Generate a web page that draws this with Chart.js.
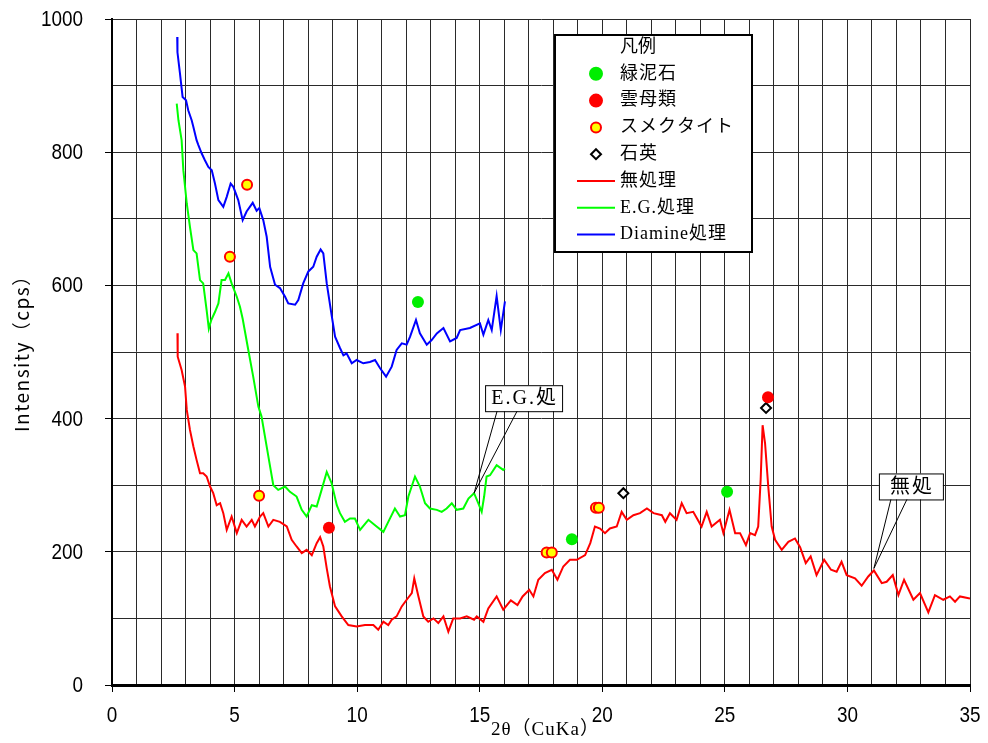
<!DOCTYPE html>
<html lang="ja">
<head>
<meta charset="UTF-8">
<title>XRD</title>
<script src="https://cdn.jsdelivr.net/npm/chart.js@4.4.1/dist/chart.umd.min.js"></script>
<style>
  html, body { margin: 0; padding: 0; background: #fff; }
  canvas { display: block; }
</style>
</head>
<body>
<canvas id="xrd" width="988" height="743"></canvas>
<script>
// 無処理
const redX = [2.67, 2.68, 2.84, 2.98, 3.05, 3.18, 3.32, 3.45, 3.59, 3.72, 3.86, 4.0, 4.13, 4.27, 4.41, 4.54, 4.68, 4.88, 5.09, 5.29,
  5.49, 5.7, 5.83, 6.04, 6.17, 6.38, 6.58, 6.85, 7.13, 7.33, 7.53, 7.74, 7.94, 8.15, 8.35, 8.49, 8.62, 8.76, 8.89, 9.1,
  9.37, 9.64, 9.98, 10.32, 10.66, 10.86, 11.07, 11.27, 11.41, 11.61, 11.82, 12.02, 12.23, 12.33, 12.5, 12.7, 12.9, 13.11, 13.31, 13.52,
  13.72, 13.92, 14.2, 14.47, 14.77, 14.88, 15.15, 15.35, 15.69, 15.96, 16.27, 16.54, 16.75, 17.02, 17.19, 17.39, 17.66, 17.94, 18.17, 18.41,
  18.68, 18.96, 19.3, 19.51, 19.7, 19.91, 20.11, 20.31, 20.59, 20.79, 21.0, 21.27, 21.54, 21.82, 22.09, 22.43, 22.57, 22.76, 23.03, 23.24,
  23.44, 23.71, 24.05, 24.26, 24.46, 24.8, 24.94, 25.19, 25.42, 25.62, 25.86, 26.03, 26.23, 26.36, 26.46, 26.54, 26.64, 26.77, 26.91, 27.05,
  27.32, 27.59, 27.86, 28.07, 28.3, 28.5, 28.74, 29.05, 29.33, 29.56, 29.76, 29.97, 30.31, 30.58, 30.85, 31.08, 31.4, 31.6, 31.85, 32.08,
  32.31, 32.69, 32.96, 33.3, 33.57, 33.91, 34.18, 34.39, 34.59, 35.0];
const redY = [528, 493, 473, 448, 413, 383, 358, 338, 318, 318, 313, 298, 288, 270, 273, 258, 233, 253, 228, 248,
  238, 248, 238, 253, 258, 238, 248, 245, 238, 218, 208, 198, 203, 195, 213, 222, 208, 175, 148, 118,
  103, 90, 88, 90, 90, 83, 95, 90, 98, 103, 118, 128, 138, 160, 133, 103, 95, 100, 93, 103,
  80, 100, 100, 103, 98, 103, 95, 115, 133, 113, 127, 120, 133, 143, 133, 158, 168, 173, 158, 178,
  188, 188, 195, 213, 238, 235, 228, 235, 238, 260, 248, 255, 258, 265, 258, 255, 245, 258, 248, 273,
  258, 260, 238, 260, 238, 248, 228, 263, 228, 228, 210, 228, 225, 238, 308, 390, 363, 298, 238, 218,
  203, 215, 220, 207, 183, 193, 165, 188, 173, 170, 185, 165, 160, 149, 163, 172, 153, 155, 165, 135,
  158, 128, 138, 109, 135, 128, 133, 125, 133, 130];

// E.G.処理
const greenX = [2.64, 2.71, 2.84, 2.91, 3.05, 3.18, 3.32, 3.45, 3.59, 3.72, 3.86, 3.95, 4.05, 4.2, 4.34, 4.47, 4.61, 4.75, 4.88, 5.09,
  5.22, 5.33, 5.56, 5.76, 5.97, 6.1, 6.31, 6.45, 6.58, 6.78, 7.06, 7.26, 7.53, 7.74, 7.94, 8.15, 8.35, 8.55, 8.76, 8.96,
  9.17, 9.3, 9.5, 9.71, 9.91, 10.12, 10.39, 10.46, 10.73, 11.07, 11.27, 11.54, 11.75, 11.95, 12.09, 12.36, 12.56, 12.77, 12.97, 13.25,
  13.45, 13.65, 13.86, 14.06, 14.33, 14.54, 14.77, 14.94, 15.08, 15.18, 15.28, 15.42, 15.69, 15.96, 16.03];
const greenY = [873, 848, 818, 773, 723, 688, 653, 648, 608, 603, 563, 535, 548, 560, 573, 608, 608, 618, 603, 583,
  568, 550, 503, 463, 418, 403, 358, 328, 300, 293, 298, 290, 283, 263, 253, 270, 268, 293, 320, 303,
  270, 258, 245, 250, 250, 233, 245, 248, 240, 230, 245, 265, 253, 255, 283, 313, 298, 273, 265, 263,
  260, 265, 273, 263, 265, 280, 288, 273, 260, 283, 313, 315, 330, 323, 325];

// Diamine処理
const blueX = [2.66, 2.67, 2.77, 2.88, 3.02, 3.11, 3.25, 3.32, 3.45, 3.52, 3.66, 3.79, 3.93, 4.07, 4.2, 4.34, 4.54, 4.68, 4.84, 4.95,
  5.15, 5.33, 5.49, 5.74, 5.9, 6.01, 6.17, 6.31, 6.45, 6.65, 6.85, 7.06, 7.19, 7.47, 7.6, 7.8, 8.01, 8.21, 8.35, 8.51,
  8.62, 8.76, 8.96, 9.1, 9.3, 9.44, 9.57, 9.78, 9.98, 10.25, 10.52, 10.73, 10.93, 11.18, 11.41, 11.61, 11.82, 12.02, 12.16, 12.4,
  12.56, 12.84, 13.04, 13.25, 13.52, 13.79, 14.06, 14.2, 14.6, 15.01, 15.15, 15.35, 15.49, 15.69, 15.86, 16.03];
const blueY = [973, 950, 919, 883, 878, 863, 848, 838, 818, 811, 798, 788, 778, 773, 753, 728, 718, 733, 753, 748,
  728, 698, 711, 724, 712, 716, 698, 673, 628, 601, 596, 583, 573, 571, 578, 603, 621, 628, 643, 654,
  648, 603, 555, 523, 506, 495, 498, 483, 488, 483, 485, 488, 476, 463, 478, 503, 513, 511, 523, 548,
  528, 511, 518, 528, 536, 516, 521, 533, 536, 543, 526, 548, 533, 584, 533, 576];

// peak markers
const chloriteX = [12.48, 18.76, 25.09];
const chloriteY = [575, 219, 290];
const micaX = [8.85, 26.76];
const micaY = [236, 432];
const smectiteX = [4.81, 5.51, 6.0, 17.73, 17.94, 19.74, 19.86];
const smectiteY = [643, 751, 284, 199, 199, 266, 266];
const quartzX = [20.86, 26.68];
const quartzY = [288, 416];

const xTicks = { min: 0, max: 35, step: 1, labelEvery: 5 };
const yTicks = { min: 0, max: 1000, step: 100, labelEvery: 200 };

function pts(xs, ys) {
  return xs.map((x, i) => ({ x: x, y: ys[i] }));
}

const serif = '"Liberation Serif", "Noto Sans CJK JP", serif';
const gothic = '"Noto Sans CJK JP", "Liberation Sans", sans-serif';

// narrow tick labels, legend, axis titles and callouts
const decorations = {
  id: 'decorations',
  afterDraw(chart) {
    const ctx = chart.ctx;
    const a = chart.chartArea;
    const xs = chart.scales.x, ys = chart.scales.y;
    ctx.save();
    ctx.fillStyle = '#000';

    // tick labels
    ctx.font = '22px "Liberation Sans", sans-serif';
    ctx.textBaseline = 'middle';
    ys.ticks.forEach(t => {
      if (t.value % yTicks.labelEvery !== 0) return;
      ctx.save();
      ctx.translate(a.left - 29, ys.getPixelForValue(t.value));
      ctx.scale(0.86, 1);
      ctx.textAlign = 'right';
      ctx.fillText(String(t.value), 0, 1);
      ctx.restore();
    });
    xs.ticks.forEach(t => {
      if (t.value % xTicks.labelEvery !== 0) return;
      ctx.save();
      ctx.translate(xs.getPixelForValue(t.value), a.bottom + 31);
      ctx.scale(0.86, 1);
      ctx.textAlign = 'center';
      ctx.fillText(String(t.value), 0, 0);
      ctx.restore();
    });

    // axis titles
    ctx.save();
    ctx.font = '19px ' + serif;
    ctx.textAlign = 'left';
    ctx.letterSpacing = '1px';
    ctx.fillText('2θ（CuKa）', 491, a.bottom + 45);
    ctx.restore();
    ctx.save();
    ctx.translate(22, 432);
    ctx.rotate(-Math.PI / 2);
    ctx.font = '19px ' + gothic;
    ctx.textAlign = 'left';
    ctx.letterSpacing = '1.5px';
    ctx.fillText('Intensity（cps）', 0, 0);
    ctx.restore();

    // callouts
    const callouts = [
      { text: 'E.G.処', x: 14.77, y: 288, dx: 11, dy: -108, w: 77, h: 26, l1: 12, l2: 32 },
      { text: '無処', x: 31.08, y: 175, dx: 5, dy: -95, w: 64, h: 26, l1: 12, l2: 28 }
    ];
    callouts.forEach(c => {
      const px = xs.getPixelForValue(c.x), py = ys.getPixelForValue(c.y);
      const bx = px + c.dx, by = py + c.dy;
      ctx.fillStyle = '#fff';
      ctx.fillRect(bx, by, c.w, c.h);
      ctx.strokeStyle = '#000';
      ctx.lineWidth = 1;
      ctx.strokeRect(bx + 0.5, by + 0.5, c.w, c.h);
      ctx.beginPath();
      ctx.moveTo(bx + c.l1, by + c.h);
      ctx.lineTo(px, py);
      ctx.lineTo(bx + c.l2, by + c.h);
      ctx.stroke();
      ctx.fillStyle = '#000';
      ctx.font = '20px ' + serif;
      ctx.save();
      ctx.textAlign = 'left';
      ctx.letterSpacing = '2px';
      const w = ctx.measureText(c.text).width;
      ctx.fillText(c.text, bx + (c.w - w) / 2 + 1, by + c.h / 2 + 1);
      ctx.restore();
    });

    // legend box
    const L = { left: a.left + 443, top: a.top + 16, w: 197, h: 217 };
    ctx.fillStyle = '#fff';
    ctx.fillRect(L.left, L.top, L.w, L.h);
    ctx.strokeStyle = '#000';
    ctx.lineWidth = 2;
    ctx.strokeRect(L.left, L.top, L.w, L.h);

    const tx = L.left + 65, mx = L.left + 41;
    const row = i => L.top + 12 + i * 26.8;
    ctx.font = '18px ' + serif;
    ctx.textAlign = 'left';
    ctx.fillStyle = '#000';
    ctx.fillText('凡例', tx, row(0));

    const items = [
      { label: '緑泥石', ds: 3 },
      { label: '雲母類', ds: 4 },
      { label: 'スメクタイト', ds: 5 },
      { label: '石英', ds: 6 },
      { label: '無処理', ds: 0 },
      { label: 'E.G.処理', ds: 1 },
      { label: 'Diamine処理', ds: 2 }
    ];
    items.forEach((it, i) => {
      const y = row(i + 1);
      const d = chart.data.datasets[it.ds];
      if (d.showLine) {
        ctx.strokeStyle = d.borderColor;
        ctx.lineWidth = 2;
        ctx.beginPath();
        ctx.moveTo(L.left + 22, y);
        ctx.lineTo(L.left + 60, y);
        ctx.stroke();
      } else {
        ctx.fillStyle = d.pointBackgroundColor;
        ctx.strokeStyle = d.pointBorderColor;
        ctx.lineWidth = d.pointBorderWidth || 0;
        ctx.beginPath();
        if (d.pointStyle === 'rectRot') {
          const r = d.pointRadius;
          ctx.moveTo(mx, y - r); ctx.lineTo(mx + r, y); ctx.lineTo(mx, y + r); ctx.lineTo(mx - r, y); ctx.closePath();
        } else {
          ctx.arc(mx, y, d.pointRadius, 0, Math.PI * 2);
        }
        ctx.fill();
        if (ctx.lineWidth > 0) ctx.stroke();
      }
      ctx.fillStyle = '#000';
      ctx.save();
      ctx.letterSpacing = '1px';
      ctx.fillText(it.label, tx, y);
      ctx.restore();
    });

    ctx.restore();
  }
};

function line(label, xs, ys, color) {
  return {
    label: label, data: pts(xs, ys), showLine: true, borderColor: color, borderWidth: 2,
    pointRadius: 0, tension: 0, order: 2
  };
}
function marks(label, xs, ys, style, radius, fill, stroke, bw) {
  return {
    label: label, data: pts(xs, ys), showLine: false, pointStyle: style, pointRadius: radius,
    pointBackgroundColor: fill, pointBorderColor: stroke, pointBorderWidth: bw,
    backgroundColor: fill, borderColor: stroke, order: 1
  };
}

new Chart(document.getElementById('xrd'), {
  type: 'scatter',
  data: {
    datasets: [
      line('無処理', redX, redY, '#ff0000'),
      line('E.G.処理', greenX, greenY, '#00ff00'),
      line('Diamine処理', blueX, blueY, '#0000ff'),
      marks('緑泥石', chloriteX, chloriteY, 'circle', 6, '#00ee00', '#00ee00', 0),
      marks('雲母類', micaX, micaY, 'circle', 6, '#ff0000', '#ff0000', 0),
      marks('スメクタイト', smectiteX, smectiteY, 'circle', 5, '#ffff00', '#ff0000', 2),
      marks('石英', quartzX, quartzY, 'rectRot', 5, '#ffffff', '#000000', 2)
    ]
  },
  options: {
    responsive: false,
    animation: false,
    events: [],
    layout: { padding: { top: 19, right: 18, left: 0, bottom: 0 } },
    plugins: { legend: { display: false }, tooltip: { enabled: false } },
    scales: {
      x: {
        type: 'linear', min: xTicks.min, max: xTicks.max,
        afterFit: s => { s.height = 58; },
        border: { color: '#000', width: 3 },
        grid: {
          color: '#2a2a2a', lineWidth: 1, drawTicks: true, tickLength: 7,
          tickColor: c => (c.tick && c.tick.value % xTicks.labelEvery === 0) ? '#000' : 'rgba(0,0,0,0)'
        },
        ticks: { stepSize: xTicks.step, autoSkip: false, display: false }
      },
      y: {
        type: 'linear', min: yTicks.min, max: yTicks.max,
        afterFit: s => { s.width = 112; },
        border: { color: '#000', width: 2 },
        grid: {
          color: '#2a2a2a', lineWidth: 1, drawTicks: true, tickLength: 7,
          tickColor: c => (c.tick && c.tick.value % yTicks.labelEvery === 0) ? '#000' : 'rgba(0,0,0,0)'
        },
        ticks: { stepSize: yTicks.step, autoSkip: false, display: false }
      }
    }
  },
  plugins: [decorations]
});
</script>
</body>
</html>
